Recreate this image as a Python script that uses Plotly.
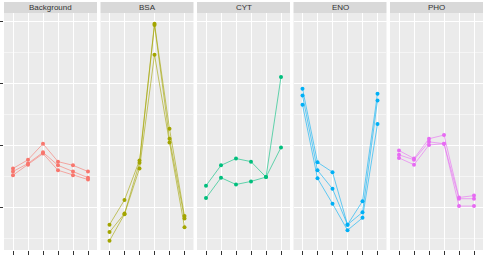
import plotly.graph_objects as go

groups = ["Background", "BSA", "CYT", "ENO", "PHO"]
colors = ["#F8766D", "#A3A500", "#00BF7D", "#00B0F6", "#E76BF3"]
line_colors = ["rgba(248,118,109,0.75)", "rgba(163,165,0,0.75)", "rgba(0,191,125,0.75)",
               "rgba(0,176,246,0.75)", "rgba(231,107,243,0.75)"]
categories = ["1", "2", "3", "4", "5", "6"]

background_reps = [
    [1.63, 1.77, 2.03, 1.74, 1.68, 1.58],
    [1.58, 1.71, 1.89, 1.68, 1.58, 1.48],
    [1.52, 1.69, 1.87, 1.60, 1.52, 1.45],
]
bsa_reps = [
    [0.72, 1.12, 1.76, 3.97, 2.27, 0.86],
    [0.60, 0.90, 1.72, 3.95, 2.11, 0.82],
    [0.46, 0.89, 1.63, 3.47, 2.05, 0.68],
]
cyt_reps = [
    [1.35, 1.68, 1.79, 1.74, 1.49, 3.11],
    [1.15, 1.48, 1.37, 1.42, 1.49, 1.97],
]
eno_reps = [
    [2.92, 1.73, 1.57, 0.72, 1.10, 2.84],
    [2.81, 1.60, 1.30, 0.72, 0.92, 2.73],
    [2.66, 1.47, 1.06, 0.63, 0.83, 2.35],
]
pho_reps = [
    [1.92, 1.79, 2.11, 2.17, 1.16, 1.19],
    [1.85, 1.77, 2.06, 2.03, 1.14, 1.14],
    [1.80, 1.69, 2.01, 2.03, 1.02, 1.02],
]
all_reps = [background_reps, bsa_reps, cyt_reps, eno_reps, pho_reps]

y_ticks = [1, 2, 3, 4]
y_minor = [0.5, 1.5, 2.5, 3.5]
y_range = [0.31, 4.145]

fig = go.Figure()

L, R, T, B = 4, 2, 2, 6
W, H = 485, 256
plot_w = W - L - R
plot_h = H - T - B
panel_w = 93
gap = (plot_w - 5 * panel_w) / 4
strip_h = 11
ydom_top = 1 - strip_h / plot_h

shapes = []
annotations = []
xs = list(range(len(categories)))

for i, (g, c, lc, reps) in enumerate(zip(groups, colors, line_colors, all_reps)):
    x0 = (i * (panel_w + gap)) / plot_w
    x1 = (i * (panel_w + gap) + panel_w) / plot_w
    ax = "" if i == 0 else str(i + 1)
    for r in reps:
        fig.add_trace(go.Scatter(
            x=xs, y=r, mode="lines",
            line=dict(color=lc, width=0.8),
            xaxis="x" + ax, yaxis="y" + ax, showlegend=False,
            hoverinfo="skip",
        ))
    for r in reps:
        fig.add_trace(go.Scatter(
            x=xs, y=r, mode="markers",
            marker=dict(color=c, size=4),
            xaxis="x" + ax, yaxis="y" + ax, showlegend=False,
            hoverinfo="skip",
        ))
    fig.layout["xaxis" + ax] = dict(
        domain=[x0, x1], range=[-0.6, len(categories) - 0.4],
        tickvals=xs, ticktext=categories, showticklabels=False,
        ticks="outside", ticklen=4, tickcolor="#333333", tickwidth=1,
        showgrid=True, gridcolor="white", gridwidth=1.1,
        zeroline=False, showline=False, anchor="y" + ax, fixedrange=True,
    )
    fig.layout["yaxis" + ax] = dict(
        domain=[0, ydom_top], range=y_range,
        tickvals=y_ticks, showticklabels=False,
        ticks="outside" if i == 0 else "", ticklen=3, tickcolor="#333333", tickwidth=1,
        showgrid=True, gridcolor="white", gridwidth=1.1,
        minor=dict(tickvals=y_minor, showgrid=True,
                   gridcolor="#F5F5F5", gridwidth=0.6, ticks=""),
        zeroline=False, showline=False, anchor="x" + ax, fixedrange=True,
    )
    shapes.append(dict(type="rect", xref="paper", yref="paper",
                       x0=x0, x1=x1, y0=ydom_top, y1=1,
                       fillcolor="#D9D9D9", line=dict(width=0), layer="below"))
    annotations.append(dict(text=g, xref="paper", yref="paper",
                            x=(x0 + x1) / 2, y=(ydom_top + 1) / 2,
                            xanchor="center", yanchor="middle", showarrow=False,
                            font=dict(size=8, color="#333333", family="Liberation Sans")))

fig.update_layout(
    width=W, height=H,
    margin=dict(l=L, r=R, t=T, b=B),
    paper_bgcolor="white", plot_bgcolor="#EBEBEB",
    shapes=shapes, annotations=annotations,
)

fig.write_html("out.html")
